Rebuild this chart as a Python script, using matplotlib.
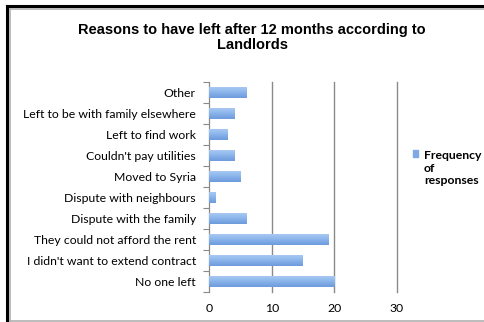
import numpy as np
import matplotlib
matplotlib.use('Agg')
import matplotlib.pyplot as plt
from matplotlib.patches import Rectangle
from matplotlib.lines import Line2D

reasons = [
    'No one left',
    "I didn't want to extend contract",
    'They could not afford the rent',
    'Dispute with the family',
    'Dispute with neighbours',
    'Moved to Syria',
    "Couldn't pay utilities",
    'Left to find work',
    'Left to be with family elsewhere',
    'Other',
]
responses = [20, 15, 19, 6, 1, 5, 4, 3, 4, 6]
x_ticks = [0, 10, 20, 30]

fig = plt.figure(figsize=(4.85, 3.22), dpi=100)
fig.patch.set_facecolor('white')

# frame around the chart
fig.add_artist(Line2D([7/485, 7/485], [0, 1 - 6/322], color='black', lw=2.2))
fig.add_artist(Line2D([7/485, 1], [1 - 6/322, 1 - 6/322], color='black', lw=2.2))
fig.add_artist(Line2D([10/485, 10/485], [0.003, 1 - 9/322], color='#b0b0b0', lw=1.2))
fig.add_artist(Line2D([10/485, 1], [1 - 9/322, 1 - 9/322], color='#b0b0b0', lw=1.2))
fig.add_artist(Line2D([10/485, 1], [1.2/322, 1.2/322], color='#b0b0b0', lw=1.2))

ax = fig.add_axes([209/485, 1 - 292/322, 188/485, 210/322])
y = np.arange(len(reasons))
bars = ax.barh(y, responses, height=0.5, color='#86b2e8', zorder=3)

# vertical gradient on each bar
grad = np.linspace(0, 1, 64).reshape(-1, 1)
cmap = matplotlib.colors.LinearSegmentedColormap.from_list(
    'bar', ['#a8c8f2', '#92bbee', '#80aae6', '#6c9bdc'])
for b in bars:
    x0, y0 = b.get_x(), b.get_y()
    w, h = b.get_width(), b.get_height()
    ax.imshow(grad, extent=[x0, x0 + w, y0, y0 + h], aspect='auto',
              cmap=cmap, origin='upper', zorder=4, interpolation='bilinear')

ax.set_xlim(0, 30)
ax.set_ylim(-0.5, len(reasons) - 0.5)
ax.set_xticks(x_ticks)
ax.set_xticklabels([str(t) for t in x_ticks], fontsize=8.8, family='Lato')
ax.tick_params(axis='x', length=0, pad=8)
for t in x_ticks[1:]:
    ax.axvline(t, color='#8a8a8a', lw=1.0, zorder=1, clip_on=False)

ax.set_yticks(y)
ax.set_yticklabels(reasons, fontsize=8.8, family='Lato')
ax.set_yticks(np.arange(-0.5, len(reasons), 1), minor=True)
ax.tick_params(axis='y', which='major', length=0, pad=9.5)
ax.tick_params(axis='y', which='minor', length=4, color='#8a8a8a', width=0.8)

for s in ['top', 'right', 'bottom']:
    ax.spines[s].set_visible(False)
ax.spines['left'].set_color('#8a8a8a')
ax.spines['left'].set_linewidth(0.9)

fig.text(252/485, 1 - 37.5/322,
         'Reasons to have left after 12 months according to\nLandlords',
         ha='center', va='center', fontsize=10.5, fontweight='bold',
         family='Liberation Sans', linespacing=1.15)

# legend
fig.add_artist(Rectangle((413/485, 1 - 157/322), 5.5/485, 7/322,
                         transform=fig.transFigure, color='#7eaae4'))
fig.text(424/485, 1 - 168/322, 'Frequency\nof\nresponses', ha='left',
         va='center', fontsize=8.8, fontweight='bold', family='Lato',
         linespacing=1.2)

plt.savefig('out.png', dpi=100)
